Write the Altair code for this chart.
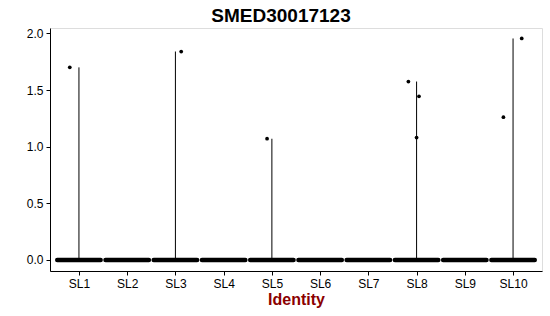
import altair as alt
import pandas as pd

groups = ["SL1", "SL2", "SL3", "SL4", "SL5", "SL6", "SL7", "SL8", "SL9", "SL10"]
# non-zero expression values per cluster (all other cells are 0)
pt_group = ["SL1", "SL3", "SL5", "SL8", "SL8", "SL8", "SL10", "SL10"]
pt_value = [1.70, 1.84, 1.07, 1.575, 1.445, 1.08, 1.955, 1.26]
pt_jitter = [-0.19, 0.12, -0.10, -0.17, 0.05, 0.0, 0.18, -0.20]
half_width = 0.45

idx = {g: i + 1 for i, g in enumerate(groups)}

# violin: flat body at 0 and thin tail up to the group's max
vmax = {g: 0.0 for g in groups}
for g, v in zip(pt_group, pt_value):
    vmax[g] = max(vmax[g], v)
violin = pd.DataFrame({
    "group": groups,
    "pos": [idx[g] for g in groups],
    "zero": [0.0] * len(groups),
    "max": [vmax[g] for g in groups],
})
points = pd.DataFrame({
    "group": pt_group,
    "pos": [idx[g] + j for g, j in zip(pt_group, pt_jitter)],
    "value": pt_value,
})

label_expr = "[" + ",".join(f"'{g}'" for g in groups) + "][datum.value - 1]"

xscale = alt.Scale(domain=[0.4, len(groups) + 0.6], nice=False, zero=False)
yscale = alt.Scale(domain=[-0.0975, 2.0475], nice=False, zero=False)

xaxis = alt.Axis(values=list(range(1, len(groups) + 1)), labelExpr=label_expr,
                 title="Identity", titleFontSize=16, titleFontWeight="bold",
                 titleColor="#8B0000", titlePadding=2, labelFontSize=12,
                 labelColor="black", tickColor="black", domainColor="black",
                 tickSize=4, labelPadding=3, grid=False)
yaxis = alt.Axis(values=[0, 0.5, 1.0, 1.5, 2.0], format=".1f", title=None,
                 labelFontSize=12, labelColor="black", tickColor="black",
                 domainColor="black", tickSize=4, labelPadding=3, grid=False)

base_v = alt.Chart(violin)

tail = base_v.transform_filter("datum.max > 0").mark_rule(color="black", strokeWidth=1).encode(
    x=alt.X("pos:Q", scale=xscale, axis=xaxis),
    y=alt.Y("zero:Q", scale=yscale, axis=yaxis),
    y2="max:Q",
)

body = base_v.transform_calculate(
    x1=f"datum.pos - {half_width}", x2=f"datum.pos + {half_width}"
).mark_rule(color="black", strokeWidth=4.5, strokeCap="round").encode(
    x=alt.X("x1:Q", scale=xscale),
    x2="x2:Q",
    y=alt.Y("zero:Q", scale=yscale),
)

pts = alt.Chart(points).mark_circle(color="black", opacity=1, size=14).encode(
    x=alt.X("pos:Q", scale=xscale),
    y=alt.Y("value:Q", scale=yscale),
)

chart = alt.layer(tail, body, pts).properties(
    width=492, height=243,
    title=alt.Title("SMED30017123", fontSize=19, fontWeight="bold", anchor="middle",
                    baseline="alphabetic", offset=6, dx=-15, dy=20, color="black",
                    font="Liberation Sans"),
    autosize=alt.AutoSizeParams(type="none"),
    padding={"left": 50, "top": 28, "right": 8, "bottom": 45},
).configure_view(stroke=None).configure(font="Liberation Sans").configure_axis(
    labelFont="Liberation Sans", titleFont="Liberation Sans")

chart.save("out.html", embed_options={"renderer": "svg", "actions": False})
